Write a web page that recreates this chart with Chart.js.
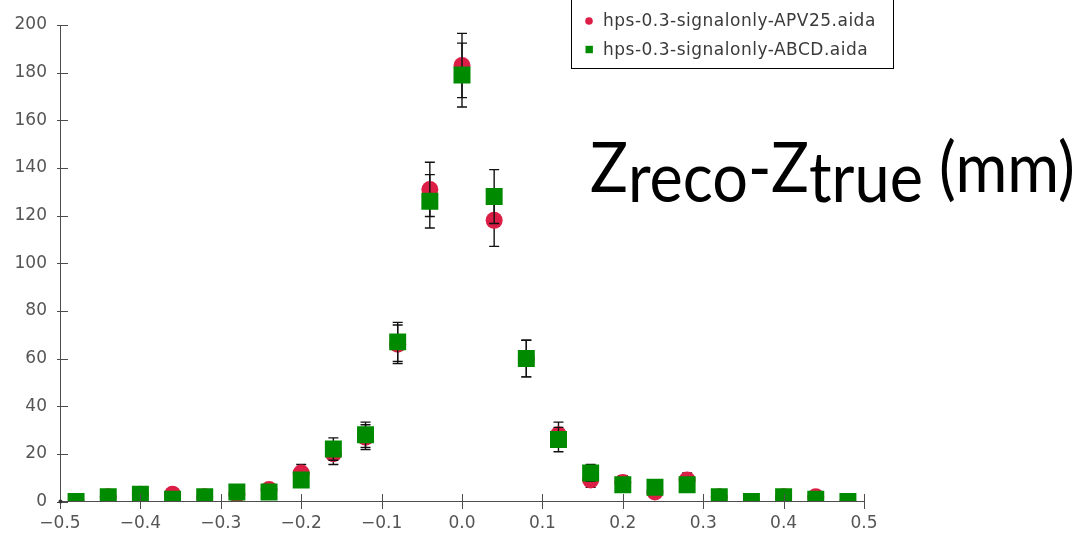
<!DOCTYPE html>
<html>
<head>
<meta charset="utf-8">
<script src="https://cdn.jsdelivr.net/npm/chart.js@4.4.1/dist/chart.umd.min.js"></script>
<style>
  html, body { margin: 0; padding: 0; background: #fff; }
  #wrap { position: relative; width: 1080px; height: 533px; overflow: hidden; }
  #note {
    position: absolute; left: 590px; top: 130px;
    font-family: Lato, "Open Sans", sans-serif; font-size: 70px; line-height: 70px;
    color: #000; white-space: nowrap;
    transform-origin: left top; transform: scaleX(0.9);
  }
  #note sub { font-size: 100%; vertical-align: -10px; line-height: 0; }
</style>
</head>
<body>
<div id="wrap">
  <canvas id="myChart" width="1080" height="533"></canvas>
  <div id="note">Z<sub>reco</sub>-Z<sub>true</sub> (mm)</div>
</div>
<script>
// bin centres (mm)
const binCenters = [-0.48, -0.44, -0.40, -0.36, -0.32, -0.28, -0.24, -0.20, -0.16, -0.12, -0.08, -0.04,
  0.00, 0.04, 0.08, 0.12, 0.16, 0.20, 0.24, 0.28, 0.32, 0.36, 0.40, 0.44, 0.48];

// hps-0.3-signalonly-APV25.aida
const apv25Counts = [0, 2, 3, 3, 2, 3, 5, 12, 20, 27, 66, 131, 183, 118, 60, 28, 9, 8, 4, 9, 2, 0, 2, 2, 0];
const apv25Errors = [0, 1.4, 1.7, 1.7, 1.4, 1.7, 2.2, 3.5, 4.5, 5.2, 8.1, 11.4, 13.5, 10.9, 7.7, 5.3, 3, 2.8, 2, 3, 1.4, 0, 1.4, 1.4, 0];

// hps-0.3-signalonly-ABCD.aida
const abcdCounts = [0, 2, 3, 1, 2, 4, 4, 9, 22, 28, 67, 126, 179, 128, 60, 26, 12, 7, 6, 7, 2, 0, 2, 1, 0];
const abcdErrors = [0, 1.4, 1.7, 1, 1.4, 2, 2, 3, 4.7, 5.3, 8.2, 11.2, 13.4, 11.3, 7.7, 5.1, 3.5, 2.6, 2.4, 2.6, 1.4, 0, 1.4, 1, 0];

const xTickValues = [-0.5, -0.4, -0.3, -0.2, -0.1, 0, 0.1, 0.2, 0.3, 0.4, 0.5];
const xTickLabels = ['\u22120.5', '\u22120.4', '\u22120.3', '\u22120.2', '\u22120.1', '0.0', '0.1', '0.2', '0.3', '0.4', '0.5'];
const yTickValues = [0, 20, 40, 60, 80, 100, 120, 140, 160, 180, 200];

const toPoints = (ys) => binCenters.map((x, i) => ({ x: x, y: ys[i] }));

// error bars, drawn just before the markers of their own dataset
const errorBars = {
  id: 'errorBars',
  beforeDatasetDraw(chart, args) {
    const ds = chart.data.datasets[args.index];
    const y = chart.scales.y;
    const a = chart.chartArea;
    const ctx = chart.ctx;
    ctx.save();
    ctx.beginPath();
    ctx.rect(a.left, a.top, a.right - a.left, a.bottom - a.top);
    ctx.clip();
    ctx.beginPath();
    ctx.strokeStyle = '#111';
    ctx.lineWidth = 1.4;
    args.meta.data.forEach((pt, i) => {
      const e = ds.errors[i];
      if (!e) return;
      const v = ds.data[i].y;
      const t = y.getPixelForValue(v + e);
      const b = y.getPixelForValue(v - e);
      ctx.moveTo(pt.x, t); ctx.lineTo(pt.x, b);
      ctx.moveTo(pt.x - 5, t); ctx.lineTo(pt.x + 5, t);
      ctx.moveTo(pt.x - 5, b); ctx.lineTo(pt.x + 5, b);
    });
    ctx.stroke();
    ctx.restore();
  }
};

// axis lines with ticks that cross them
const axes = {
  id: 'axes',
  afterDatasetsDraw(chart) {
    const { ctx, chartArea: a, scales } = chart;
    ctx.save();
    ctx.strokeStyle = '#4d4d4d';
    ctx.lineWidth = 1;
    ctx.beginPath();
    ctx.moveTo(a.left + 0.5, a.top); ctx.lineTo(a.left + 0.5, a.bottom);
    ctx.moveTo(a.left, a.bottom); ctx.lineTo(a.right, a.bottom);
    scales.y.ticks.forEach(t => {
      const py = Math.round(scales.y.getPixelForValue(t.value)) + 0.5;
      ctx.moveTo(a.left - 3, py); ctx.lineTo(a.left + 8, py);
    });
    scales.x.ticks.forEach(t => {
      const px = Math.round(scales.x.getPixelForValue(t.value)) + 0.5;
      ctx.moveTo(px, a.bottom - 7.5); ctx.lineTo(px, a.bottom + 7.5);
    });
    ctx.stroke();
    ctx.fillStyle = '#333';
    ctx.beginPath();
    ctx.arc(a.left + 0.5, a.bottom, 2, 0, Math.PI * 2);
    ctx.fill();
    ctx.restore();
  }
};

// boxed legend in the top right corner
const legendBox = {
  id: 'legendBox',
  afterDraw(chart) {
    const ctx = chart.ctx;
    const left = 571, right = 893, bottom = 68;
    ctx.save();
    ctx.fillStyle = '#fff';
    ctx.fillRect(left, -2, right - left, bottom + 2);
    ctx.strokeStyle = '#000';
    ctx.lineWidth = 1;
    ctx.strokeRect(left + 0.5, -2, right - left, bottom + 2.5);
    ctx.font = '17px "DejaVu Sans"';
    ctx.letterSpacing = '0.5px';
    ctx.textBaseline = 'middle';
    chart.data.datasets.forEach((ds, i) => {
      const cy = 21 + i * 28.5;
      ctx.fillStyle = ds.backgroundColor;
      if (ds.pointStyle === 'rect') {
        ctx.fillRect(585.5, cy - 3.7, 7.4, 7.4);
      } else {
        ctx.beginPath();
        ctx.arc(589, cy, 3.8, 0, Math.PI * 2);
        ctx.fill();
      }
      ctx.fillStyle = '#3a3a3a';
      ctx.fillText(ds.label, 603, cy + 1);
    });
    ctx.restore();
  }
};

const tickFont = { family: 'DejaVu Sans', size: 17 };

const myChart = new Chart(document.getElementById('myChart'), {
  type: 'scatter',
  data: {
    datasets: [
      {
        label: 'hps-0.3-signalonly-APV25.aida',
        data: toPoints(apv25Counts),
        errors: apv25Errors,
        pointStyle: 'circle',
        pointRadius: 8.5,
        backgroundColor: '#dc1e46',
        borderWidth: 0,
        order: 2,
        clip: 0
      },
      {
        label: 'hps-0.3-signalonly-ABCD.aida',
        data: toPoints(abcdCounts),
        errors: abcdErrors,
        pointStyle: 'rect',
        pointRadius: 12,
        backgroundColor: '#008a00',
        borderWidth: 0,
        order: 1,
        clip: 0
      }
    ]
  },
  options: {
    responsive: false,
    animation: false,
    events: [],
    layout: { padding: { top: 25, right: 216, left: 0, bottom: 0 } },
    plugins: { legend: { display: false }, tooltip: { enabled: false } },
    scales: {
      x: {
        type: 'linear',
        min: -0.5,
        max: 0.5,
        grid: { display: false, drawTicks: false },
        border: { display: false },
        afterBuildTicks: s => { s.ticks = xTickValues.map(v => ({ value: v })); },
        afterFit: s => { s.height = 31.5; },
        ticks: {
          font: tickFont,
          color: '#555',
          padding: 12,
          maxRotation: 0,
          autoSkip: false,
          callback: (v, i) => xTickLabels[i]
        }
      },
      y: {
        min: 0,
        max: 200,
        grid: { display: false, drawTicks: false },
        border: { display: false },
        afterBuildTicks: s => { s.ticks = yTickValues.map(v => ({ value: v })); },
        afterFit: s => { s.width = 60; },
        ticks: {
          font: tickFont,
          color: '#555',
          padding: 13,
          autoSkip: false,
          callback: (v) => String(v)
        }
      }
    }
  },
  plugins: [errorBars, axes, legendBox]
});
</script>
</body>
</html>
